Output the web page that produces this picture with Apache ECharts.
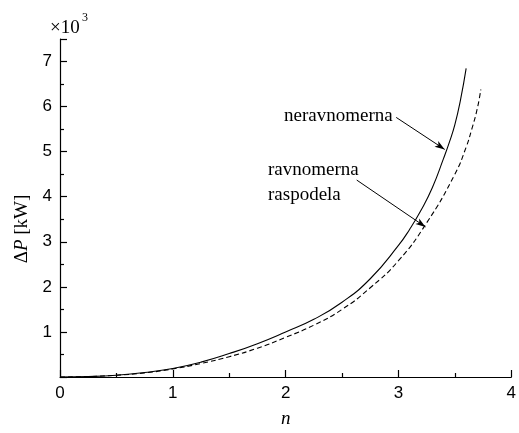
<!DOCTYPE html>
<html>
<head>
<meta charset="utf-8">
<script src="https://cdn.jsdelivr.net/npm/echarts@6/dist/echarts.min.js"></script>
<style>
	html, body { margin: 0; padding: 0; background: #fff; }
	#chart { width: 519px; height: 433px; }
</style>
</head>
<body>
<div id="chart"></div>
<script>
// 数据 (ΔP 单位为 ×10^3 kW)
var nNeravnomerna = [0, 0.25, 0.5, 0.75, 1.0, 1.25, 1.5, 1.75, 2.0, 2.25, 2.5, 2.75, 3.0, 3.1, 3.2, 3.3, 3.4, 3.45, 3.5, 3.55, 3.6];
var pNeravnomerna = [0, 0.01, 0.04, 0.1, 0.19, 0.33, 0.52, 0.74, 1.0, 1.28, 1.66, 2.18, 2.92, 3.28, 3.7, 4.2, 4.85, 5.2, 5.6, 6.15, 6.85];
var nRavnomerna = [0, 0.25, 0.5, 0.75, 1.0, 1.25, 1.5, 1.75, 2.0, 2.25, 2.5, 2.75, 3.0, 3.25, 3.5, 3.6, 3.65, 3.7, 3.73];
var pRavnomerna = [0, 0.01, 0.04, 0.09, 0.18, 0.3, 0.45, 0.64, 0.88, 1.15, 1.5, 1.98, 2.58, 3.42, 4.5, 5.1, 5.5, 5.97, 6.38];
var xTicks = [0, 1, 2, 3, 4];
var yTicks = [1, 2, 3, 4, 5, 6, 7];

function pairs(xs, ys) {
	return xs.map(function (x, i) { return [x, ys[i]]; });
}

(function () {
	var myChart = echarts.init(document.getElementById('chart'));
	var serif = '"Liberation Serif"';
	var sans = 'Liberation Sans';
	var option = {
		animation: false,
		grid: {
			left: 60,
			right: 5,
			top: 39,
			bottom: 46
		},
		xAxis: {
			type: 'value',
			min: 0,
			max: 4,
			interval: 1,
			name: 'n',
			nameLocation: 'middle',
			nameGap: 32,
			nameTextStyle: { fontFamily: 'Liberation Serif', fontStyle: 'italic', fontSize: 19, color: '#000' },
			axisLine: { lineStyle: { color: '#000', width: 1.2 } },
			axisTick: { inside: true, length: 7, lineStyle: { color: '#000', width: 1.2 } },
			minorTick: { show: true, splitNumber: 2, length: 4, lineStyle: { color: '#000', width: 1.2 } },
			splitLine: { show: false },
			axisLabel: {
				fontFamily: sans, fontSize: 17, color: '#000', margin: 8,
				formatter: function (v) { return xTicks.indexOf(v) >= 0 ? String(v) : ''; }
			}
		},
		yAxis: {
			type: 'value',
			min: 0,
			max: 7.5,
			interval: 1,
			axisLine: { show: true, lineStyle: { color: '#000', width: 1.2 } },
			axisTick: { show: true, inside: true, length: 7, lineStyle: { color: '#000', width: 1.2 } },
			minorTick: { show: true, splitNumber: 2, length: 4, lineStyle: { color: '#000', width: 1.2 } },
			splitLine: { show: false },
			axisLabel: {
				fontFamily: sans, fontSize: 17, color: '#000', margin: 8,
				formatter: function (v) { return yTicks.indexOf(v) >= 0 ? String(v) : ''; }
			}
		},
		graphic: [
			{
				type: 'text', x: 50, y: 28,
				style: { text: '×10', font: '19px ' + serif, fill: '#000', verticalAlign: 'middle' }
			},
			{
				type: 'text', x: 82, y: 18,
				style: { text: '3', font: '12px ' + serif, fill: '#000', verticalAlign: 'middle' }
			},
			{
				type: 'text', x: 22, y: 229, rotation: Math.PI / 2,
				style: {
					text: '{d|Δ}{p|P}{d| [kW]}',
					align: 'center', verticalAlign: 'middle',
					rich: {
						d: { font: '19px ' + serif, fill: '#000' },
						p: { font: 'italic 19px ' + serif, fill: '#000' }
					}
				}
			},
			{
				type: 'text', x: 284, y: 116,
				style: { text: 'neravnomerna', font: '19px ' + serif, fill: '#000', verticalAlign: 'middle' }
			},
			{
				type: 'text', x: 268, y: 158,
				style: { text: 'ravnomerna\nraspodela', font: '19px ' + serif, lineHeight: 25, fill: '#000', verticalAlign: 'top' }
			}
		],
		series: [
			{
				name: 'neravnomerna',
				type: 'line',
				smooth: 0.5,
				showSymbol: false,
				lineStyle: { color: '#000', width: 1.1 },
				data: pairs(nNeravnomerna, pNeravnomerna),
				markLine: {
					silent: true,
					symbol: ['none', 'arrow'],
					symbolSize: [5, 10],
					label: { show: false },
					lineStyle: { color: '#000', width: 1, type: 'solid' },
					data: [
						[{ coord: [2.98, 5.76] }, { coord: [3.41, 5.05] }],
						[{ coord: [2.63, 4.37] }, { coord: [3.24, 3.33] }]
					]
				}
			},
			{
				name: 'ravnomerna raspodela',
				type: 'line',
				smooth: 0.5,
				showSymbol: false,
				lineStyle: { color: '#000', width: 1.1, type: [5, 3] },
				data: pairs(nRavnomerna, pRavnomerna)
			}
		]
	};
	myChart.setOption(option);
	window.addEventListener('resize', function () {
		myChart.resize();
	});
})();
</script>
</body>
</html>
